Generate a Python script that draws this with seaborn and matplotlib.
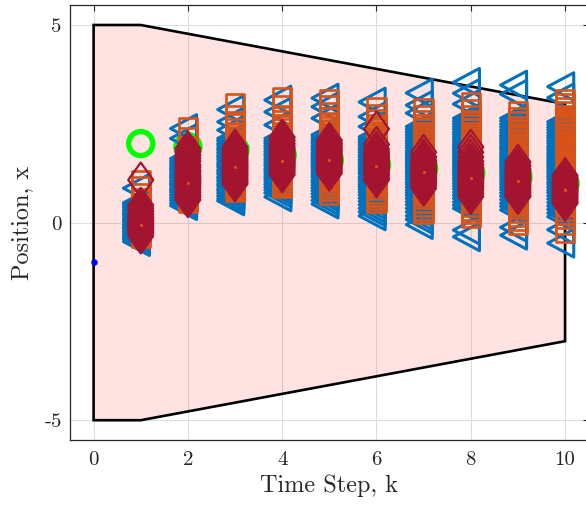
import numpy as np
import pandas as pd
import matplotlib
matplotlib.use("Agg")
import matplotlib.pyplot as plt
from matplotlib.path import Path
import seaborn as sns

# ---- data -------------------------------------------------------------
steps = [1, 2, 3, 4, 5, 6, 7, 8, 9, 10]

# admissible state set (polygon outline)
bound_k = [0, 1, 10]
bound_upper = [5, 5, 3]
bound_lower = [-5, -5, -3]

# initial state
x0_k = [0]
x0_y = [-1]

# nominal trajectory
nominal_y = [2.00, 1.92, 1.84, 1.71, 1.58, 1.46, 1.37, 1.25, 1.16, 0.99]

# mean of the sampled predictions
mean_y = [-0.06, 1.00, 1.40, 1.56, 1.58, 1.43, 1.29, 1.12, 1.05, 0.82]

# sampled states, one list per time step
triangle_y = [
    [0.87, 0.50, 0.44, 0.38, 0.31, 0.25, 0.20, 0.13, 0.07, 0.02, -0.05, -0.11, -0.16, -0.23, -0.29, -0.35, -0.41, -0.48],
    [2.38, 2.13, 1.62, 1.55, 1.49, 1.42, 1.36, 1.31, 1.24, 1.18, 1.13, 1.06, 1.00, 0.95, 0.88, 0.82, 0.77, 0.70, 0.63, 0.57, 0.50, 0.43],
    [2.86, 2.55, 2.34, 2.13, 2.07, 2.00, 1.95, 1.88, 1.83, 1.77, 1.70, 1.65, 1.59, 1.52, 1.47, 1.41, 1.34, 1.29, 1.23, 1.16, 1.11, 1.05, 0.98, 0.93, 0.86, 0.81, 0.74, 0.67, 0.60, 0.55],
    [3.10, 2.80, 2.47, 2.13, 2.06, 2.00, 1.93, 1.87, 1.80, 1.74, 1.68, 1.61, 1.55, 1.49, 1.43, 1.36, 1.30, 1.24, 1.17, 1.11, 1.04, 0.97, 0.90, 0.83, 0.75, 0.65],
    [3.15, 2.93, 2.64, 2.22, 2.15, 2.08, 2.02, 1.95, 1.89, 1.83, 1.76, 1.70, 1.64, 1.58, 1.52, 1.46, 1.40, 1.34, 1.27, 1.21, 1.15, 1.08, 1.02, 0.95, 0.88, 0.81, 0.73, 0.65, 0.56, 0.47],
    [3.05, 2.68, 2.43, 2.17, 2.10, 2.03, 1.97, 1.90, 1.84, 1.78, 1.71, 1.65, 1.59, 1.53, 1.47, 1.41, 1.35, 1.29, 1.23, 1.16, 1.10, 1.04, 0.97, 0.91, 0.84, 0.77, 0.70, 0.62, 0.54, 0.45, 0.36, 0.27, 0.17],
    [3.28, 2.97, 2.77, 2.43, 2.36, 2.29, 2.22, 2.15, 2.08, 2.02, 1.95, 1.89, 1.82, 1.76, 1.70, 1.64, 1.58, 1.52, 1.46, 1.40, 1.34, 1.28, 1.22, 1.16, 1.10, 1.03, 0.97, 0.90, 0.83, 0.76, 0.69, 0.61, 0.53, 0.45, 0.36, 0.27, 0.17, 0.08, -0.05],
    [3.55, 3.27, 3.00, 2.64, 2.57, 2.50, 2.43, 2.36, 2.29, 2.23, 2.16, 2.10, 2.03, 1.97, 1.91, 1.85, 1.79, 1.73, 1.67, 1.61, 1.55, 1.49, 1.43, 1.37, 1.31, 1.25, 1.19, 1.12, 1.06, 0.99, 0.92, 0.85, 0.77, 0.69, 0.61, 0.52, 0.44, 0.36, -0.19, -0.36],
    [3.48, 3.25, 2.64, 2.57, 2.49, 2.42, 2.35, 2.28, 2.21, 2.15, 2.08, 2.02, 1.95, 1.89, 1.83, 1.77, 1.71, 1.65, 1.59, 1.53, 1.47, 1.41, 1.35, 1.29, 1.23, 1.17, 1.10, 1.04, 0.97, 0.90, 0.83, 0.75, 0.67, 0.58, 0.49, 0.41, 0.32, -0.12, -0.32],
    [3.44, 3.16, 2.55, 2.48, 2.41, 2.34, 2.27, 2.20, 2.14, 2.07, 2.01, 1.94, 1.88, 1.82, 1.76, 1.70, 1.64, 1.58, 1.52, 1.46, 1.40, 1.34, 1.28, 1.22, 1.16, 1.10, 1.03, 0.97, 0.90, 0.83, 0.76, 0.68, 0.60, 0.51, 0.42, 0.33, 0.24, 0.15, -0.18, -0.52],
]

square_y = [
    [1.08, 0.91, 0.74, 0.60, 0.48, 0.38, 0.30, 0.23, 0.16, 0.10, 0.04, -0.02, -0.08, -0.14, -0.20, -0.26, -0.32, -0.38],
    [2.41, 2.16, 1.92, 1.82, 1.73, 1.65, 1.58, 1.51, 1.45, 1.39, 1.33, 1.27, 1.21, 1.15, 1.10, 1.04, 0.98, 0.92, 0.86, 0.80, 0.73, 0.66, 0.58, 0.50],
    [3.03, 2.72, 2.52, 2.40, 2.29, 2.19, 2.10, 2.02, 1.94, 1.87, 1.80, 1.73, 1.67, 1.61, 1.55, 1.49, 1.43, 1.37, 1.31, 1.25, 1.19, 1.13, 1.07, 1.01, 0.95, 0.89, 0.84, 0.78],
    [3.17, 2.96, 2.70, 2.58, 2.47, 2.38, 2.29, 2.21, 2.14, 2.07, 2.00, 1.94, 1.88, 1.82, 1.76, 1.70, 1.64, 1.58, 1.52, 1.46, 1.41, 1.35, 1.29, 1.23, 1.17, 1.11, 1.05, 0.99, 0.93, 0.87],
    [3.13, 2.98, 2.80, 2.66, 2.55, 2.45, 2.36, 2.27, 2.19, 2.12, 2.05, 1.98, 1.92, 1.86, 1.80, 1.74, 1.68, 1.62, 1.56, 1.50, 1.44, 1.38, 1.32, 1.26, 1.20, 1.14, 1.08, 1.02, 0.95, 0.88, 0.80, 0.71],
    [2.92, 2.74, 2.62, 2.50, 2.40, 2.31, 2.23, 2.15, 2.08, 2.01, 1.94, 1.88, 1.82, 1.76, 1.70, 1.64, 1.58, 1.52, 1.46, 1.40, 1.34, 1.28, 1.22, 1.16, 1.10, 1.04, 0.97, 0.90, 0.82, 0.74, 0.66, 0.58, 0.50],
    [2.89, 2.72, 2.60, 2.49, 2.39, 2.30, 2.22, 2.14, 2.07, 2.00, 1.93, 1.87, 1.81, 1.75, 1.69, 1.63, 1.57, 1.51, 1.45, 1.39, 1.33, 1.27, 1.21, 1.15, 1.09, 1.03, 0.96, 0.89, 0.82, 0.75, 0.67, 0.59, 0.50, 0.41, 0.31, 0.21],
    [3.04, 2.86, 2.72, 2.60, 2.49, 2.39, 2.30, 2.22, 2.14, 2.06, 1.99, 1.92, 1.85, 1.79, 1.73, 1.67, 1.61, 1.55, 1.49, 1.43, 1.37, 1.31, 1.25, 1.19, 1.13, 1.07, 1.01, 0.94, 0.87, 0.80, 0.73, 0.65, 0.57, 0.49, 0.40, 0.31, 0.22, 0.12],
    [2.83, 2.68, 2.56, 2.45, 2.35, 2.26, 2.18, 2.10, 2.02, 1.95, 1.88, 1.81, 1.75, 1.69, 1.63, 1.57, 1.51, 1.45, 1.39, 1.33, 1.27, 1.21, 1.15, 1.09, 1.03, 0.97, 0.90, 0.83, 0.76, 0.69, 0.61, 0.53, 0.44, 0.35, 0.25, 0.15, 0.05, -0.05],
    [3.13, 3.03, 2.93, 2.82, 2.72, 2.62, 2.52, 2.43, 2.34, 2.25, 2.17, 2.09, 2.01, 1.94, 1.87, 1.80, 1.73, 1.66, 1.60, 1.54, 1.48, 1.42, 1.36, 1.30, 1.24, 1.18, 1.12, 1.06, 1.00, 0.93, 0.86, 0.79, 0.72, 0.64, 0.56, 0.48, 0.39, 0.30, 0.20, 0.09, -0.05, -0.26],
]

diamond_y = [
    [1.08, 0.44, 0.36, 0.29, 0.22, 0.16, 0.11, 0.06, 0.02, -0.02, -0.06, -0.10, -0.14, -0.18, -0.22, -0.27, -0.34],
    [1.87, 1.79, 1.71, 1.63, 1.55, 1.46, 1.40, 1.33, 1.27, 1.21, 1.15, 1.10, 1.05, 1.00, 0.95, 0.90, 0.84, 0.77, 0.70, 0.64, 0.58],
    [1.91, 1.84, 1.78, 1.72, 1.66, 1.61, 1.56, 1.51, 1.46, 1.42, 1.38, 1.34, 1.29, 1.24, 1.19, 1.14, 1.08, 1.03, 0.98],
    [2.16, 2.08, 2.00, 1.93, 1.87, 1.81, 1.76, 1.71, 1.66, 1.62, 1.58, 1.54, 1.50, 1.46, 1.42, 1.38, 1.33, 1.27, 1.21],
    [2.08, 2.01, 1.95, 1.89, 1.84, 1.79, 1.74, 1.70, 1.66, 1.62, 1.58, 1.54, 1.50, 1.46, 1.42, 1.37, 1.31, 1.25],
    [2.37, 1.98, 1.86, 1.79, 1.73, 1.68, 1.63, 1.58, 1.54, 1.50, 1.46, 1.42, 1.38, 1.34, 1.30, 1.25, 1.20, 1.14, 1.08],
    [1.78, 1.66, 1.58, 1.52, 1.47, 1.42, 1.38, 1.34, 1.30, 1.26, 1.22, 1.18, 1.14, 1.10, 1.05, 1.00, 0.94, 0.87],
    [1.91, 1.78, 1.66, 1.55, 1.47, 1.40, 1.34, 1.28, 1.23, 1.18, 1.14, 1.10, 1.06, 1.02, 0.98, 0.93, 0.88, 0.82, 0.74, 0.66],
    [1.53, 1.44, 1.36, 1.30, 1.25, 1.20, 1.16, 1.12, 1.08, 1.04, 1.00, 0.96, 0.92, 0.87, 0.82, 0.76, 0.70, 0.66],
    [1.19, 1.13, 1.08, 1.03, 0.99, 0.95, 0.91, 0.87, 0.83, 0.80, 0.76, 0.72, 0.68, 0.63, 0.58, 0.53, 0.49],
]

x_ticks = [0, 2, 4, 6, 8, 10]
x_tick_labels = ["0", "2", "4", "6", "8", "10"]
y_ticks = [-5, 0, 5]
y_tick_labels = ["-5", "0", "5"]

# ---- style --------------------------------------------------------------
BLUE = "#0072BD"
ORANGE = "#D95319"
DARKRED = "#A2142F"
LIME = "#00FF00"
AX_GREY = "#262626"

sns.set_theme(style="white")
plt.rcParams.update({
    "font.family": ["cmr10", "DejaVu Serif"],
    "axes.unicode_minus": False,
    "mathtext.fontset": "cm",
    "axes.edgecolor": AX_GREY,
    "axes.linewidth": 0.9,
})


def long_form(columns):
    counts = [len(c) for c in columns]
    return pd.DataFrame({"k": np.repeat(steps, counts),
                         "y": np.concatenate([np.asarray(c, float) for c in columns])})


# centroid-centred left triangle, and a tall diamond
left_triangle = Path([(-1.0, 0.0), (0.5, 0.8), (0.5, -0.8), (-1.0, 0.0)],
                     [Path.MOVETO, Path.LINETO, Path.LINETO, Path.CLOSEPOLY])
tall_diamond = Path([(0.0, 1.0), (0.72, 0.0), (0.0, -1.0), (-0.72, 0.0), (0.0, 1.0)],
                    [Path.MOVETO, Path.LINETO, Path.LINETO, Path.LINETO, Path.CLOSEPOLY])

fig = plt.figure(figsize=(5.86, 5.08), dpi=100)
ax = fig.add_axes([0.1195, 0.1339, 0.885, 0.8558])

# admissible set
poly_k = list(bound_k) + list(bound_k[::-1])
poly_y = list(bound_upper) + list(bound_lower[::-1])
ax.fill(poly_k, poly_y, facecolor=(1.0, 0.0, 0.0, 0.11), edgecolor="black",
        linewidth=1.9, zorder=1)

# initial state and nominal trajectory
sns.scatterplot(x=x0_k, y=x0_y, ax=ax, color="blue", s=22, edgecolor="blue",
                linewidth=0, zorder=3)
sns.scatterplot(x=steps, y=nominal_y, ax=ax, marker="o", s=300, facecolor="none",
                edgecolor=LIME, linewidth=3.9, zorder=3)

# sampled states
sns.scatterplot(data=long_form(triangle_y), x="k", y="y", ax=ax, marker=left_triangle,
                s=25 ** 2, facecolor="none", edgecolor=BLUE, linewidth=2.2, zorder=4)
sns.scatterplot(data=long_form(square_y), x="k", y="y", ax=ax, marker="s",
                s=13.2 ** 2, facecolor="none", edgecolor=ORANGE, linewidth=1.9, zorder=5)
sns.scatterplot(data=long_form(diamond_y), x="k", y="y", ax=ax, marker=tall_diamond,
                s=25 ** 2, facecolor="none", edgecolor=DARKRED, linewidth=1.6, zorder=6)
sns.scatterplot(x=steps, y=mean_y, ax=ax, marker="o", s=5, color=ORANGE,
                edgecolor=ORANGE, linewidth=0, zorder=7)

# axes
ax.set_xlim(-0.5, 10.5)
ax.set_ylim(-5.5, 5.5)
ax.set_xticks(x_ticks, x_tick_labels)
ax.set_yticks(y_ticks, y_tick_labels)
ax.grid(True, color="#DEDEDE", linewidth=0.8)
ax.set_axisbelow(True)
ax.tick_params(direction="in", length=4, width=0.8, colors=AX_GREY,
               top=True, right=True, labelsize=15)
ax.tick_params(axis="x", pad=8)
ax.tick_params(axis="y", pad=6)
for side in ["top", "right", "bottom", "left"]:
    ax.spines[side].set_visible(True)
    ax.spines[side].set_color(AX_GREY)

ax.set_xlabel("Time Step, k", fontsize=17.5, color=AX_GREY, labelpad=4)
ax.set_ylabel("Position, x", fontsize=17.5, color=AX_GREY, labelpad=8)

fig.savefig("out.png", dpi=100)
